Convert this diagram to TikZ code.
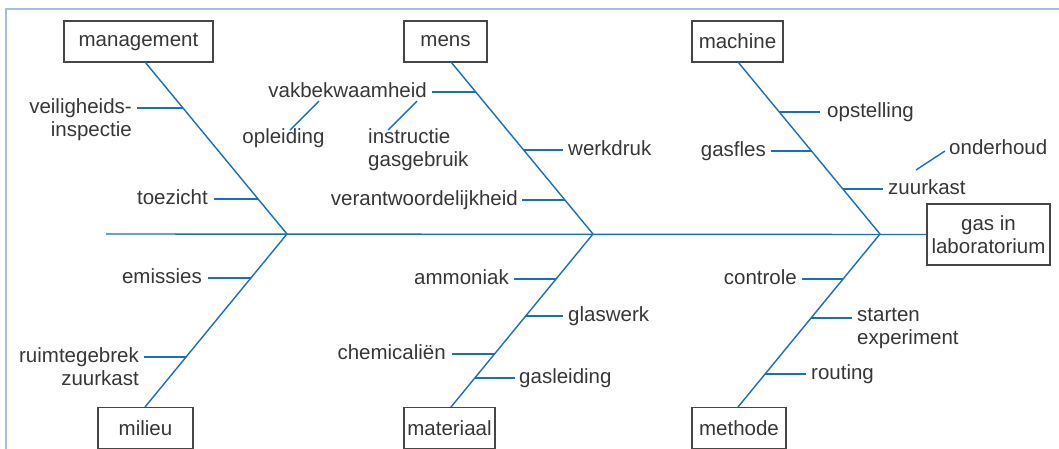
\documentclass[tikz,border=0pt]{standalone}
\usepackage{fontspec}
\setmainfont{Liberation Sans}
\definecolor{fishblue}{RGB}{25,110,190}
\definecolor{txtgray}{RGB}{55,55,55}
\definecolor{boxgray}{RGB}{70,70,70}
\definecolor{framebl}{RGB}{165,190,225}
\tikzset{
  x=1pt, y=-1pt,
  every node/.style={font=\fontsize{20.5}{23}\selectfont, text=txtgray, inner sep=0pt},
  bone/.style={draw=fishblue, line width=1.4pt},
  catbox/.style={draw=boxgray, line width=1.2pt, minimum height=41pt, inner sep=0pt},
  lblL/.style={anchor=base east, align=right},
  lblR/.style={anchor=base west, align=left},
  lblC/.style={anchor=base, align=center},
}
\begin{document}
\begin{tikzpicture}
\useasboundingbox (0,0) rectangle (1059,448);
\clip (0,0) rectangle (1059,448);
\fill[white] (0,0) rectangle (1059,448);
% frame
\draw[framebl, line width=2pt] (5.5,460) -- (5.5,8.5) -- (1070,8.5);

% category boxes
\node[catbox, minimum width=149pt] (mgmt) at (138.5,41.5) {management};
\node[catbox, minimum width=83pt] (mens) at (445.5,41.5) {mens};
\node[catbox, minimum width=91pt] (mach) at (737.5,41.5) {machine};
\node[catbox, minimum width=95pt] (mil) at (145.5,428) {milieu};
\node[catbox, minimum width=91pt] (mat) at (449.5,428) {materiaal};
\node[catbox, minimum width=94pt] (meth) at (739,428) {methode};
\node[catbox, minimum width=123pt, minimum height=61pt, align=center] (gas) at (988.5,234.5) {gas in\\laboratorium};

% spine
\coordinate (tail) at (106,234);
\coordinate (j1) at (287,234);
\coordinate (j2) at (593,234);
\coordinate (j3) at (880,234);
\draw[bone] (tail) -- (gas.west);

% main bones
\coordinate (b1) at (145,62);
\coordinate (b2) at (451,62);
\coordinate (b3) at (738,62);
\coordinate (b4) at (145,407);
\coordinate (b5) at (451,407);
\coordinate (b6) at (738,407);
\draw[bone] (b1) -- (j1);
\draw[bone] (b2) -- (j2);
\draw[bone] (b3) -- (j3);
\draw[bone] (b4) -- (j1);
\draw[bone] (b5) -- (j2);
\draw[bone] (b6) -- (j3);

% --- management ---
\coordinate (t1a) at (183,108); \coordinate (t1b) at (137,108);
\draw[bone] (t1a) -- (t1b);
\node[lblL] (l1) at (132,136.5) {veiligheids-\\inspectie};
\coordinate (t2a) at (258,199); \coordinate (t2b) at (214,199);
\draw[bone] (t2a) -- (t2b);
\node[lblL] (l2) at (208,204.5) {toezicht};

% --- mens ---
\coordinate (t3a) at (476,92); \coordinate (t3b) at (432,92);
\draw[bone] (t3a) -- (t3b);
\node[lblL] (l3) at (427,97.5) {vakbekwaamheid};
\coordinate (s1a) at (319,101); \coordinate (s1b) at (290,130);
\draw[bone] (s1a) -- (s1b);
\node[lblC] (s1) at (283.5,143) {opleiding};
\coordinate (s2a) at (417,101); \coordinate (s2b) at (388,130);
\draw[bone] (s2a) -- (s2b);
\node[lblR] (s2) at (368,166) {instructie\\gasgebruik};
\coordinate (t4a) at (524,150); \coordinate (t4b) at (563,150);
\draw[bone] (t4a) -- (t4b);
\node[lblR] (l4) at (568,155.5) {werkdruk};
\coordinate (t5a) at (565,200); \coordinate (t5b) at (522,200);
\draw[bone] (t5a) -- (t5b);
\node[lblL] (l5) at (518,205.5) {verantwoordelijkheid};

% --- machine ---
\coordinate (t6a) at (779,112); \coordinate (t6b) at (820,112);
\draw[bone] (t6a) -- (t6b);
\node[lblR] (l6) at (827,117.5) {opstelling};
\coordinate (t7a) at (811,151); \coordinate (t7b) at (771,151);
\draw[bone] (t7a) -- (t7b);
\node[lblL] (l7) at (766,156.5) {gasfles};
\coordinate (t8a) at (843,189); \coordinate (t8b) at (883,189);
\draw[bone] (t8a) -- (t8b);
\node[lblR] (l8) at (888,194.5) {zuurkast};
\coordinate (s3a) at (916,170); \coordinate (s3b) at (945,151);
\draw[bone] (s3a) -- (s3b);
\node[lblR] (s3) at (949,154.5) {onderhoud};

% --- milieu ---
\coordinate (t9a) at (251,278); \coordinate (t9b) at (208,278);
\draw[bone] (t9a) -- (t9b);
\node[lblL] (l9) at (202,283.5) {emissies};
\coordinate (t10a) at (186,357); \coordinate (t10b) at (144,357);
\draw[bone] (t10a) -- (t10b);
\node[lblL] (l10) at (139,385.5) {ruimtegebrek\\zuurkast};

% --- materiaal ---
\coordinate (t11a) at (556,279); \coordinate (t11b) at (514,279);
\draw[bone] (t11a) -- (t11b);
\node[lblL] (l11) at (509,284.5) {ammoniak};
\coordinate (t12a) at (526,316); \coordinate (t12b) at (563,316);
\draw[bone] (t12a) -- (t12b);
\node[lblR] (l12) at (568,321.5) {glaswerk};
\coordinate (t13a) at (494.5,354); \coordinate (t13b) at (452,354);
\draw[bone] (t13a) -- (t13b);
\node[lblL] (l13) at (446,359.5) {chemicaliën};
\coordinate (t14a) at (475,378); \coordinate (t14b) at (515,378);
\draw[bone] (t14a) -- (t14b);
\node[lblR] (l14) at (519,383.5) {gasleiding};

% --- methode ---
\coordinate (t15a) at (843,279); \coordinate (t15b) at (802,279);
\draw[bone] (t15a) -- (t15b);
\node[lblL] (l15) at (797,284.5) {controle};
\coordinate (t16a) at (811,318); \coordinate (t16b) at (852,318);
\draw[bone] (t16a) -- (t16b);
\node[lblR] (l16) at (857,344.5) {starten\\experiment};
\coordinate (t17a) at (765,374); \coordinate (t17b) at (806,374);
\draw[bone] (t17a) -- (t17b);
\node[lblR] (l17) at (811,379.5) {routing};
\end{tikzpicture}
\end{document}
